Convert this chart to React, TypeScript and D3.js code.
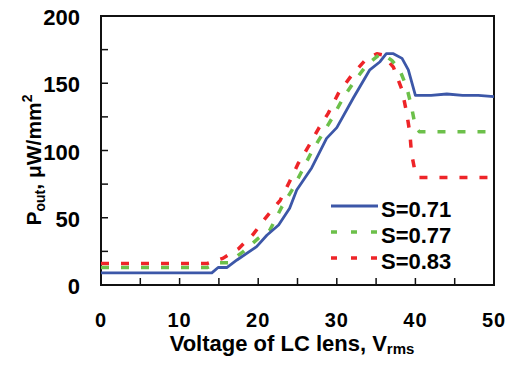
import React, { useEffect, useRef } from "react";
import * as d3 from "d3";

// readings: voltage (Vrms) and output power (uW/mm2)
const voltA = [0, 14.1, 14.9, 16.0, 17.3, 19.8, 21.1, 22.6, 24.0, 24.9, 26.8, 28.7, 30.0, 32.1, 34.2, 35.5, 36.3, 37.2, 38.3, 39.1, 40.0, 42, 44, 46, 48, 50];
const powerA = [9, 9, 13, 13, 18.6, 28.5, 37, 44.6, 57, 70.6, 87, 109, 117, 139, 160, 166, 172, 172, 168.5, 160, 141, 141, 142, 141, 141, 140];

const voltB = [0, 13.5, 15.0, 16.2, 18.1, 20.0, 21.5, 23.0, 24.3, 25.5, 26.8, 28.1, 29.4, 30.8, 32.3, 33.8, 35.5, 35.8, 37.0, 38.0, 38.9, 39.5, 40.0, 40.5, 50];
const powerB = [13, 13, 16.6, 16.6, 24.8, 34.7, 41, 58, 70.6, 84, 99, 111.5, 124, 139, 152, 163.5, 171.7, 172, 167, 160, 147, 132.6, 117.7, 114, 114];

const voltC = [0, 13.5, 15.5, 17.5, 19.4, 20.9, 22.8, 24.0, 25.1, 26.4, 27.7, 28.9, 30.2, 31.9, 33.6, 35.1, 35.9, 37.2, 38.3, 38.9, 39.3, 39.5, 40.0, 40.5, 50];
const powerC = [16, 16, 19.8, 27, 38, 49.6, 63, 77, 90.5, 103, 116.5, 127.6, 142.5, 156, 167, 172, 171, 162, 145, 127.6, 112.8, 98, 83, 80, 80];

const seriesNames = ["S=0.71", "S=0.77", "S=0.83"];
const xTickLabels = [0, 10, 20, 30, 40, 50];
const yTickLabels = [0, 50, 100, 150, 200];

const App: React.FC = () => {
  const ref = useRef<SVGSVGElement | null>(null);

  useEffect(() => {
    if (!ref.current) return;
    const width = 512;
    const height = 367;
    const m = { left: 101, top: 16, right: 18, bottom: 82 };
    const font = "'Liberation Sans', Arial, sans-serif";

    const svg = d3.select(ref.current);
    svg.selectAll("*").remove();
    svg.attr("width", width).attr("height", height);

    const x = d3.scaleLinear().domain([0, 50]).range([m.left, width - m.right]);
    const y = d3.scaleLinear().domain([0, 200]).range([height - m.bottom, m.top]);

    // minor ticks every 5 V and 25 uW/mm2, pointing inward
    const xt = d3.range(5, 50, 5);
    const yt = d3.range(25, 200, 25);
    svg
      .selectAll(".xt")
      .data(xt)
      .enter()
      .append("line")
      .attr("x1", (d) => x(d))
      .attr("x2", (d) => x(d))
      .attr("y1", y(0))
      .attr("y2", y(0) - 7)
      .attr("stroke", "#111")
      .attr("stroke-width", 1.5);
    svg
      .selectAll(".yt")
      .data(yt)
      .enter()
      .append("line")
      .attr("x1", x(0))
      .attr("x2", x(0) + 7)
      .attr("y1", (d) => y(d))
      .attr("y2", (d) => y(d))
      .attr("stroke", "#111")
      .attr("stroke-width", 1.5);

    svg
      .append("rect")
      .attr("x", x(0))
      .attr("y", y(200))
      .attr("width", x(50) - x(0))
      .attr("height", y(0) - y(200))
      .attr("fill", "none")
      .attr("stroke", "#111")
      .attr("stroke-width", 2);

    // tick labels
    svg
      .selectAll(".xl")
      .data(xTickLabels)
      .enter()
      .append("text")
      .attr("x", (d) => x(d))
      .attr("y", 327)
      .attr("text-anchor", "middle")
      .style("font", `bold 20px ${font}`)
      .style("letter-spacing", "1px")
      .text((d) => d);
    svg
      .selectAll(".yl")
      .data(yTickLabels)
      .enter()
      .append("text")
      .attr("x", 80)
      .attr("y", (d) => y(d) + 9)
      .attr("text-anchor", "end")
      .style("font", `bold 22px ${font}`)
      .text((d) => d);

    // axis titles
    const xTitle = svg
      .append("text")
      .attr("x", 292)
      .attr("y", 351)
      .attr("text-anchor", "middle")
      .style("font", `bold 22px ${font}`);
    xTitle.append("tspan").text("Voltage of LC lens, V");
    xTitle.append("tspan").attr("dy", 3).style("font-size", "15px").text("rms");

    const yTitle = svg
      .append("text")
      .attr("transform", `translate(41,160) rotate(-90)`)
      .attr("text-anchor", "middle")
      .style("font", `bold 21px ${font}`);
    yTitle.append("tspan").text("P");
    yTitle.append("tspan").attr("dy", 4).style("font-size", "14px").text("out");
    yTitle.append("tspan").attr("dy", -4).text(", μW/mm");
    yTitle.append("tspan").attr("dy", -9).style("font-size", "14px").text("2");

    const line = d3
      .line<[number, number]>()
      .x((d) => x(d[0]))
      .y((d) => y(d[1]));

    const series = [
      { v: voltA, p: powerA, color: "#3c57a8", dash: null, w: 2.8 },
      { v: voltB, p: powerB, color: "#6cc04a", dash: "8,12", w: 3.5 },
      { v: voltC, p: powerC, color: "#ee2428", dash: "8,12", w: 3.5 },
    ];

    // draw red first so blue sits on top
    [...series].reverse().forEach((s) => {
      const pts = s.v.map((v, i) => [v, s.p[i]] as [number, number]);
      svg
        .append("path")
        .attr("d", line(pts))
        .attr("fill", "none")
        .attr("stroke", s.color)
        .attr("stroke-width", s.w)
        .attr("stroke-dasharray", s.dash)
        .attr("stroke-linejoin", "round");
    });

    // legend
    series.forEach((s, i) => {
      const ly = 206 + i * 26;
      svg
        .append("line")
        .attr("x1", 331)
        .attr("x2", 378)
        .attr("y1", ly)
        .attr("y2", ly)
        .attr("stroke", s.color)
        .attr("stroke-width", s.w)
        .attr("stroke-dasharray", s.dash ? "6,14" : null);
      svg
        .append("text")
        .attr("x", 381)
        .attr("y", ly + 11)
        .style("font", `bold 22px ${font}`)
        .text(seriesNames[i]);
    });
  }, []);

  return (
    <div style={{ position: "absolute", left: 0, top: 0 }}>
      <svg ref={ref}></svg>
    </div>
  );
};

export default App;
